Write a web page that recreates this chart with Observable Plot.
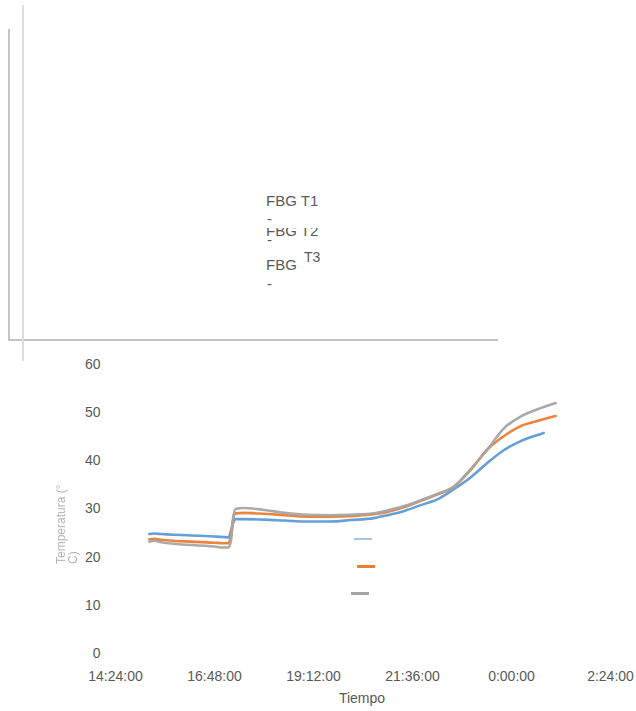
<!DOCTYPE html>
<html>
<head>
<meta charset="utf-8">
<script src="https://cdn.jsdelivr.net/npm/d3@7"></script>
<script src="https://cdn.jsdelivr.net/npm/@observablehq/plot@0.6"></script>
<style>
  html, body { margin: 0; padding: 0; background: #fff; }
  body { width: 636px; height: 711px; position: relative; overflow: hidden; font-family: "Liberation Sans", Arial, sans-serif; color: #595959; }
  .abs { position: absolute; }
  .lbl { font-size: 15px; line-height: 16px; white-space: nowrap; }
  #chart { position: absolute; left: 0; top: 350px; }
</style>
</head>
<body>
<div id="deco"></div>
<div id="chart"></div>
<script>
// ---- data ----
const seriesNames = ["FBG T1", "FBG T2", "FBG T3"];
const seriesColors = ["#5b9bd5", "#ed7d31", "#a5a5a5"];

// time in hours (24 = midnight)
const tBlue = [15.22, 15.35, 15.5, 16.8, 17.0, 17.14, 17.2, 17.26, 17.31, 17.5, 18.0, 18.5, 19.05, 19.6, 20.1, 20.66, 20.99, 21.4, 21.8, 22.2, 22.6, 23.0, 23.42, 23.81, 24.2, 24.5, 24.78];
const vBlue = [24.8, 24.9, 24.8, 24.3, 24.2, 24.1, 25.5, 27.3, 27.9, 27.9, 27.8, 27.6, 27.4, 27.4, 27.7, 28.1, 28.7, 29.6, 30.8, 32.0, 34.1, 36.5, 39.6, 42.2, 44.0, 45.0, 45.8];

const tOrange = [15.22, 15.35, 15.5, 16.8, 17.0, 17.14, 17.2, 17.26, 17.31, 17.5, 18.0, 18.5, 19.05, 19.6, 20.1, 20.66, 20.99, 21.4, 21.8, 22.2, 22.6, 23.0, 23.42, 23.81, 24.22, 24.6, 25.07];
const vOrange = [23.7, 23.8, 23.6, 23.0, 22.9, 22.9, 24.5, 28.3, 29.1, 29.2, 29.0, 28.7, 28.4, 28.4, 28.5, 28.9, 29.4, 30.4, 31.7, 33.0, 34.6, 38.0, 42.4, 45.1, 47.2, 48.2, 49.3];

const tGray = [15.22, 15.35, 15.5, 16.8, 17.0, 17.14, 17.2, 17.26, 17.31, 17.5, 18.0, 18.5, 19.05, 19.6, 20.1, 20.66, 20.99, 21.4, 21.8, 22.2, 22.6, 23.0, 23.42, 23.81, 24.22, 24.6, 25.07];
const vGray = [23.2, 23.4, 23.1, 22.2, 22.0, 22.0, 23.5, 28.5, 30.0, 30.2, 29.8, 29.2, 28.8, 28.7, 28.8, 29.1, 29.7, 30.6, 31.8, 33.1, 34.6, 38.2, 42.4, 46.7, 49.2, 50.6, 52.0];

const xTickValues = [14.4, 16.8, 19.2, 21.6, 24.0, 26.4];
const xTickLabels = ["14:24:00", "16:48:00", "19:12:00", "21:36:00", "0:00:00", "2:24:00"];
const yTickValues = [0, 10, 20, 30, 40, 50, 60];
const xTitle = "Tiempo";
const yTitleLines = ["Temperatura (°", "C)"];

// ---- build table ----
const rows = [];
[[tBlue, vBlue], [tOrange, vOrange], [tGray, vGray]].forEach(([ts, vs], k) => {
  ts.forEach((t, i) => rows.push({ series: seriesNames[k], t, v: vs[i] }));
});

const chart = Plot.plot({
  width: 636,
  height: 361,
  marginLeft: 115,
  marginRight: 26,
  marginTop: 14,
  marginBottom: 58,
  style: { fontFamily: "Liberation Sans, Arial, sans-serif", fontSize: "14px", color: "#595959", background: "transparent" },
  x: { domain: [14.4, 26.4] },
  y: { domain: [0, 60] },
  color: { domain: seriesNames, range: seriesColors },
  marks: [
    Plot.axisX({ ticks: xTickValues, tickFormat: d => xTickLabels[xTickValues.indexOf(d)], tickSize: 0, tickPadding: 18, label: null, fontSize: 14 }),
    Plot.axisY({ ticks: yTickValues, tickSize: 0, tickPadding: 15, label: null, fontSize: 14 }),
    Plot.line(rows, { x: "t", y: "v", z: "series", stroke: "series", strokeWidth: 2.6, curve: "monotone-x", strokeOpacity: 0.95 })
  ]
});
document.getElementById("chart").appendChild(chart);

// ---- decorations (frame, legend fragments, titles) ----
const deco = document.getElementById("deco");
function box(css, html) {
  const d = document.createElement("div");
  d.className = "abs";
  d.style.cssText = css;
  if (html !== undefined) d.innerHTML = html;
  deco.appendChild(d);
  return d;
}
// frame lines
box("left:8px;top:29px;width:2px;height:312px;background:#c4c4c4;");
box("left:8px;top:339px;width:490px;height:2px;background:#c4c4c4;");
box("left:22px;top:5px;width:2px;height:356px;background:#dcdcdc;");

// legend texts (displaced)
box("left:266px;top:192px;", `<span class="lbl">${seriesNames[0]}</span>`);
box("left:267px;top:210px;", `<span class="lbl">-</span>`);
const clip = box("left:266px;top:228px;width:60px;height:9px;overflow:hidden;");
clip.innerHTML = `<div style="position:relative;top:-6px"><span class="lbl">${seriesNames[1]}</span></div>`;
box("left:267px;top:231px;", `<span class="lbl">-</span>`);
box("left:266px;top:256px;", `<span class="lbl">FBG</span>`);
box("left:304px;top:248px;", `<span class="lbl" style="font-size:14px">T3</span>`);
box("left:267px;top:275px;", `<span class="lbl">-</span>`);

// legend keys (displaced)
box(`left:354px;top:538px;width:18px;height:2px;background:#a9c3e3;`);
box(`left:357px;top:565px;width:18px;height:3px;background:${seriesColors[1]};`);
box(`left:351px;top:592px;width:18px;height:3px;background:${seriesColors[2]};`);

// axis titles
box("left:0;top:690px;width:724px;text-align:center;font-size:14px;line-height:16px;color:#595959;", xTitle);
box("left:55px;top:564px;transform:rotate(-90deg);transform-origin:left top;font-size:12px;line-height:12px;color:#b5b5b5;filter:blur(0.7px);white-space:nowrap;text-align:left;",
    yTitleLines.join("<br>"));
</script>
</body>
</html>
